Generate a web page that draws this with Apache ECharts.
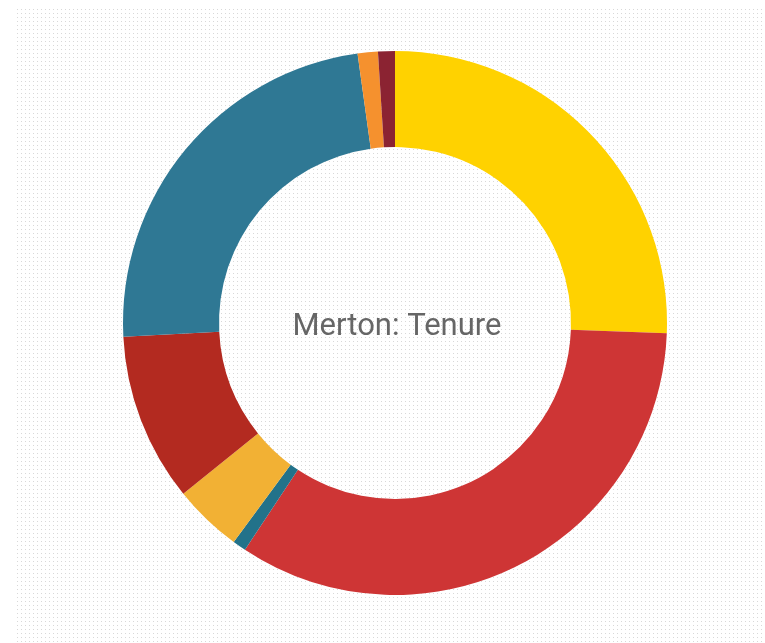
<!DOCTYPE html>
<html>
<head>
<meta charset="utf-8">
<script src="https://cdn.jsdelivr.net/npm/echarts@6/dist/echarts.min.js"></script>
<style>
  html, body { margin: 0; padding: 0; background: #fff; }
  #chart { width: 765px; height: 643px; }
</style>
</head>
<body>
<div id="chart"></div>
<script>
// tenure categories and shares (%), clockwise from 12 o'clock
const categories = [
  "Owned outright",
  "Owned with mortgage",
  "Shared ownership",
  "Social rented: council",
  "Social rented: other",
  "Private rented",
  "Other rented",
  "Living rent free"
];
const shares = [25.6, 33.7, 0.8, 4.1, 10.0, 23.6, 1.2, 1.0];
const colors = ["#FFD200", "#CE3535", "#22728A", "#F2B134", "#B32A20", "#2F7894", "#F5912E", "#8B2332"];
const titleText = "Merton: Tenure";

// faint dotted backdrop
const dots = document.createElement("canvas");
dots.width = 4;
dots.height = 4;
const dctx = dots.getContext("2d");
dctx.fillStyle = "#ffffff";
dctx.fillRect(0, 0, 4, 4);
dctx.fillStyle = "#d8d8d8";
dctx.fillRect(1, 1, 1, 1);

let myChart = echarts.init(document.getElementById("chart"));
myChart.setOption({
  backgroundColor: "#ffffff",
  color: colors,
  graphic: [
    {
      type: "rect",
      z: -10,
      silent: true,
      shape: { x: 16, y: 6, width: 749, height: 637 },
      style: { fill: { image: dots, repeat: "repeat" } }
    }
  ],
  title: {
    text: titleText,
    left: 392,
    top: 322,
    textAlign: "center",
    textVerticalAlign: "middle",
    textStyle: {
      fontFamily: "Roboto",
      fontSize: 31,
      fontWeight: "normal",
      color: "#666666"
    }
  },
  series: [
    {
      type: "pie",
      center: [395, 323],
      radius: [176, 272],
      startAngle: 90,
      clockwise: true,
      silent: true,
      label: { show: false },
      labelLine: { show: false },
      itemStyle: { borderWidth: 0 },
      data: categories.map((name, i) => ({ name: name, value: shares[i] }))
    }
  ]
});
</script>
</body>
</html>
